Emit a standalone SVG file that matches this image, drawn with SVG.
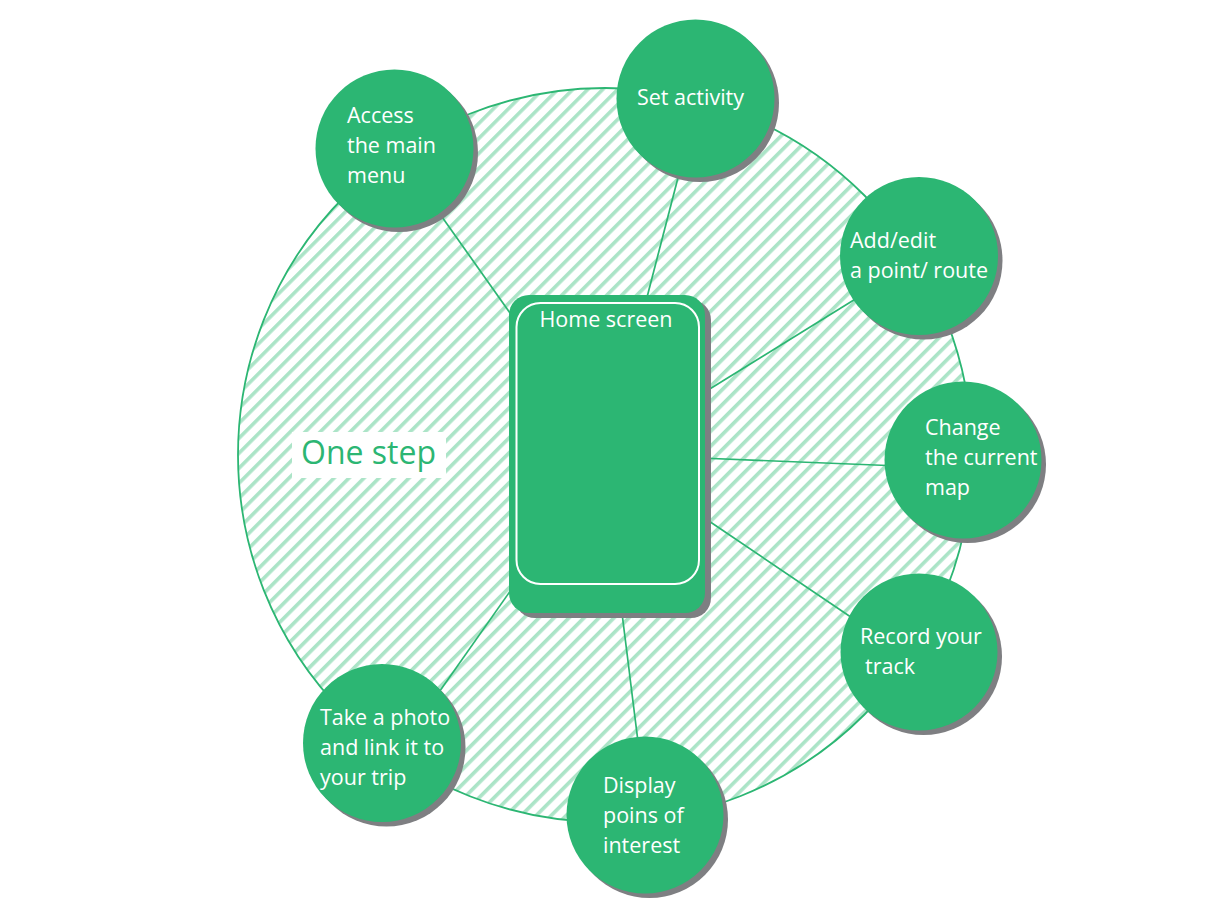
<svg xmlns="http://www.w3.org/2000/svg" width="1231" height="921" viewBox="0 0 1231 921">
  <defs>
    <pattern id="hatch" patternUnits="userSpaceOnUse" width="10.6" height="10.6" patternTransform="rotate(45)">
      <rect x="0" y="0" width="3.6" height="10.6" fill="#abe4c7"/>
    </pattern>
  </defs>
  <style>
    .node-bg { fill: #2cb673; }
    .shadow { fill: #7e7f82; }
    .label { font-family: "Open Sans", "Noto Sans", sans-serif; font-size: 21.5px; fill: #ffffff; }
    .spoke { stroke: #2cb673; stroke-width: 1.7; fill: none; }
  </style>
  <rect width="1231" height="921" fill="#ffffff"/>

  <g id="area">
    <circle cx="605" cy="455" r="367" fill="url(#hatch)" stroke="#2cb673" stroke-width="1.8"/>
  </g>

  <g id="connectors">
    <line class="spoke" x1="515" y1="320" x2="430" y2="200"/>
    <line class="spoke" x1="645" y1="305" x2="680" y2="170"/>
    <line class="spoke" x1="700" y1="395" x2="870" y2="290"/>
    <line class="spoke" x1="700" y1="458" x2="900" y2="466"/>
    <line class="spoke" x1="700" y1="515" x2="870" y2="630"/>
    <line class="spoke" x1="621" y1="605" x2="639" y2="750"/>
    <line class="spoke" x1="518" y1="580" x2="430" y2="705"/>
  </g>

  <g id="one-step">
    <rect x="292" y="432" width="154" height="46" fill="#ffffff"/>
    <text x="301" y="464" font-family="'Open Sans', 'Noto Sans', sans-serif" font-size="32" fill="#2cb673">One step</text>
  </g>

  <g id="home-screen">
    <rect class="shadow" x="515" y="300" width="196" height="318" rx="20"/>
    <rect class="node-bg" x="509" y="295" width="196" height="318" rx="20"/>
    <rect x="516.5" y="303" width="182.5" height="281" rx="24" fill="none" stroke="#ffffff" stroke-width="2"/>
    <text class="label" x="606" y="327" text-anchor="middle">Home screen</text>
  </g>

  <g id="node-menu">
    <circle class="shadow" cx="399" cy="153" r="79"/>
    <circle class="node-bg" cx="394.5" cy="148.5" r="79"/>
    <text class="label" x="347" y="123">Access<tspan x="347" dy="30">the main</tspan><tspan x="347" dy="30">menu</tspan></text>
  </g>

  <g id="node-activity">
    <circle class="shadow" cx="700" cy="103" r="79"/>
    <circle class="node-bg" cx="695.5" cy="98.5" r="79"/>
    <text class="label" x="637" y="105">Set activity</text>
  </g>

  <g id="node-point">
    <circle class="shadow" cx="923.5" cy="260.5" r="79"/>
    <circle class="node-bg" cx="919" cy="256" r="79"/>
    <text class="label" x="850" y="248">Add/edit<tspan x="850" dy="30">a point/ route</tspan></text>
  </g>

  <g id="node-map">
    <circle class="shadow" cx="967.5" cy="464.5" r="78.5"/>
    <circle class="node-bg" cx="963" cy="460" r="78.5"/>
    <text class="label" x="925" y="435">Change<tspan x="925" dy="30">the current</tspan><tspan x="925" dy="30">map</tspan></text>
  </g>

  <g id="node-track">
    <circle class="shadow" cx="923.5" cy="656.5" r="78.5"/>
    <circle class="node-bg" cx="919" cy="652" r="78.5"/>
    <text class="label" x="860" y="644">Record your<tspan x="865" dy="30">track</tspan></text>
  </g>

  <g id="node-poi">
    <circle class="shadow" cx="649.5" cy="819.5" r="78.5"/>
    <circle class="node-bg" cx="645" cy="815" r="78.5"/>
    <text class="label" x="603" y="793">Display<tspan x="603" dy="30">poins of</tspan><tspan x="603" dy="30">interest</tspan></text>
  </g>

  <g id="node-photo">
    <circle class="shadow" cx="386.5" cy="747.5" r="79"/>
    <circle class="node-bg" cx="382" cy="743" r="79"/>
    <text class="label" x="320" y="725">Take a photo<tspan x="320" dy="30">and link it to</tspan><tspan x="320" dy="30">your trip</tspan></text>
  </g>
</svg>
